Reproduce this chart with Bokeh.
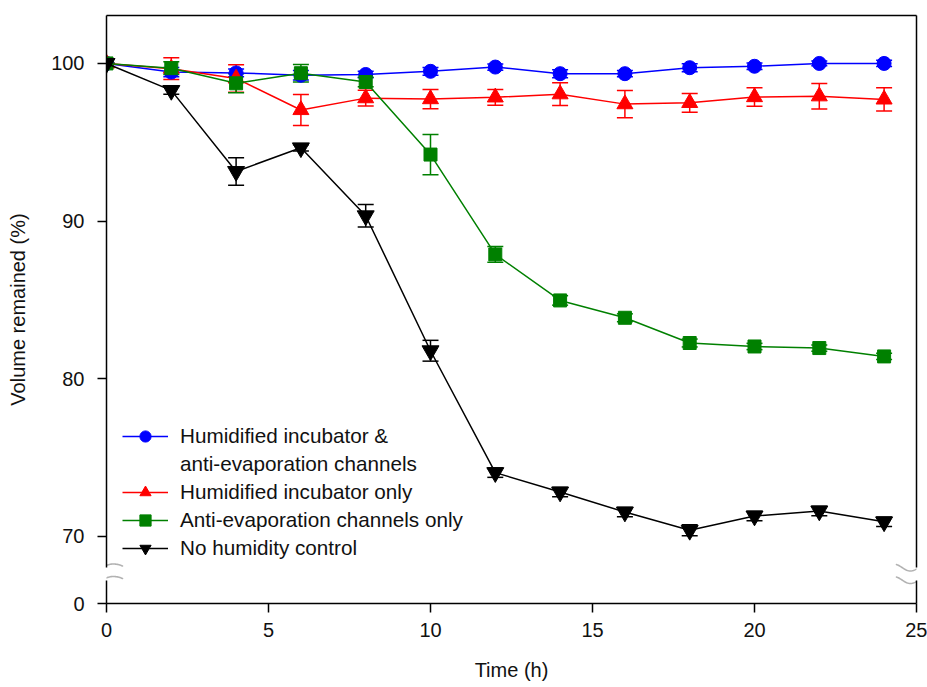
import numpy as np
from bokeh.plotting import figure
from bokeh.models import (ColumnDataSource, Whisker, TeeHead, Legend, LegendItem,
                          FixedTicker, PolyAnnotation, Range1d, LinearAxis)
from bokeh.embed import file_html
from bokeh.resources import INLINE

# ---------------- data ----------------
time_h = [0, 2, 4, 6, 8, 10, 12, 14, 16, 18, 20, 22, 24]

both_mean = [100, 99.45, 99.4, 99.25, 99.3, 99.5, 99.77, 99.35, 99.35, 99.73, 99.82, 100, 100]
both_err = [0, 0.3, 0.25, 0.3, 0.2, 0.25, 0.2, 0.25, 0.2, 0.25, 0.2, 0.15, 0.2]

incub_mean = [100, 99.67, 99.05, 97.05, 97.8, 97.74, 97.85, 98.05, 97.42, 97.5, 97.87, 97.92, 97.72]
incub_err = [0, 0.69, 0.87, 0.98, 0.5, 0.61, 0.5, 0.72, 0.87, 0.59, 0.59, 0.81, 0.74]

chan_mean = [100, 99.7, 98.74, 99.38, 98.82, 94.22, 87.89, 84.97, 83.87, 82.27, 82.05, 81.95, 81.42]
chan_err = [0, 0.4, 0.6, 0.56, 0.3, 1.28, 0.5, 0.3, 0.25, 0.25, 0.2, 0.2, 0.2]

none_mean = [100, 98.29, 93.15, 94.65, 90.34, 81.78, 74.05, 72.82, 71.55, 70.39, 71.3, 71.62, 70.93]
none_err = [0, 0.25, 0.87, 0.2, 0.72, 0.66, 0.3, 0.3, 0.3, 0.35, 0.3, 0.3, 0.3]

series_labels = [["Humidified incubator &", "anti-evaporation channels"],
                 ["Humidified incubator only"],
                 ["Anti-evaporation channels only"],
                 ["No humidity control"]]
series_colors = ["#0000FF", "#FF0000", "#008000", "#000000"]
series_markers = ["circle", "triangle", "square", "inverted_triangle"]
series_sizes = [14, 16, 13, 17]

x_ticks = [0, 5, 10, 15, 20, 25]
y_ticks = [70, 80, 90, 100]
y_zero_label = "0"

x_title = "Time (h)"
y_title = "Volume remained (%)"

# ---------------- layout ----------------
FONT = "Liberation Sans"
X_START, X_END = 0, 25
Y_ZERO_POS = 65.75   # display position of the "0" tick below the axis break
Y_END = 103.04
W, H = 927, 687
ML, MR, MT, MB = 106, 11, 15, 84
ppu_x = (W - ML - MR) / (X_END - X_START)
ppu_y = (H - MT - MB) / (Y_END - Y_ZERO_POS)
gap_hi = Y_ZERO_POS + 36 / ppu_y     # upper edge of the axis break
gap_lo = Y_ZERO_POS + 23.5 / ppu_y   # lower edge of the axis break

p = figure(width=W, height=H, output_backend="svg", toolbar_location=None,
           x_range=Range1d(X_START, X_END), y_range=Range1d(Y_ZERO_POS, Y_END),
           min_border_left=ML, min_border_right=MR, min_border_top=MT,
           min_border_bottom=MB)
p.grid.visible = False
p.background_fill_color = "white"
p.border_fill_color = "white"
p.outline_line_color = None

p.xaxis.ticker = FixedTicker(ticks=x_ticks)
p.yaxis.ticker = FixedTicker(ticks=[Y_ZERO_POS] + y_ticks)
p.yaxis.major_label_overrides = {Y_ZERO_POS: y_zero_label}
for ax in (p.xaxis, p.yaxis):
    ax.axis_line_width = 1.5
    ax.axis_line_color = "black"
    ax.major_tick_line_width = 1.5
    ax.major_tick_line_color = "black"
    ax.major_tick_in = 0
    ax.major_tick_out = 9
    ax.minor_tick_line_color = None
    ax.major_label_text_font = FONT
    ax.major_label_text_font_size = "20px"
    ax.major_label_text_color = "#111111"
    ax.axis_label_text_font = FONT
    ax.axis_label_text_font_size = "20px"
    ax.axis_label_text_font_style = "normal"
    ax.axis_label_text_color = "#111111"
p.yaxis.axis_line_color = None
p.xaxis.major_label_standoff = 10
p.yaxis.major_label_standoff = 13
p.xaxis.axis_label = x_title
p.yaxis.axis_label = y_title
p.xaxis.axis_label_standoff = 19
p.yaxis.axis_label_standoff = 19


def line_axis(lo, hi):
    """An axis that only draws its line between lo and hi (frame borders with a break)."""
    mid = (lo + hi) / 2
    return LinearAxis(bounds=(lo, hi), ticker=FixedTicker(ticks=[mid]),
                      major_label_overrides={mid: ""}, major_label_standoff=0,
                      major_label_text_font_size="1px",
                      major_tick_in=0, major_tick_out=0,
                      major_tick_line_color=None, minor_tick_line_color=None,
                      axis_line_color="black", axis_line_width=1.5)


for side in ("left", "right"):
    p.add_layout(line_axis(gap_hi, Y_END), side)
    p.add_layout(line_axis(Y_ZERO_POS, gap_lo), side)
p.left = p.left[1:] + p.left[:1]   # line-only axes next to the frame, labelled axis outside
p.add_layout(line_axis(X_START, X_END), "above")

means = [both_mean, incub_mean, chan_mean, none_mean]
errs = [both_err, incub_err, chan_err, none_err]

legend_items = []
dummy = p.line(x=[], y=[], line_alpha=0)
for lab, m, e, c, mk, sz in zip(series_labels, means, errs, series_colors,
                                 series_markers, series_sizes):
    lo = [a - b for a, b in zip(m, e)]
    hi = [a + b for a, b in zip(m, e)]
    src = ColumnDataSource(dict(t=time_h, v=m, lo=lo, hi=hi))
    wk = Whisker(source=src, base="t", lower="lo", upper="hi",
                 line_color=c, line_width=1.5,
                 lower_head=TeeHead(size=16, line_color=c, line_width=1.5),
                 upper_head=TeeHead(size=16, line_color=c, line_width=1.5))
    p.add_layout(wk)
    ln = p.line("t", "v", source=src, line_color=c, line_width=1.5)
    sc = p.scatter("t", "v", source=src, marker=mk, size=sz,
                   fill_color=c, line_color=c)
    legend_items.append(LegendItem(label=lab[0], renderers=[ln, sc]))
    for extra in lab[1:]:
        legend_items.append(LegendItem(label=extra, renderers=[dummy]))

legend = Legend(items=legend_items, location=(16, 41), orientation="vertical",
                glyph_width=46, glyph_height=28, label_height=20, spacing=0,
                label_standoff=12, padding=0, margin=0,
                label_text_font=FONT, label_text_font_size="20.7px",
                label_text_color="#111111",
                border_line_color=None, background_fill_alpha=0)
p.add_layout(legend)

# ---------------- axis-break marks ----------------


def wave(x_axis, y_mid, side):
    if side == "left":
        px = np.linspace(-18, 16, 40)
        off = 3.5 * np.cos(np.pi * (px + 18) / 25)
    else:
        px = np.linspace(-20, 16, 40)
        off = 3.5 * np.cos(2 * np.pi * (px + 6) / 34)
    xs = x_axis + px / ppu_x
    ys = y_mid - off / ppu_y
    return list(xs), list(ys)


for x_axis, side in ((X_START, "left"), (X_END, "right")):
    for y_mid in (gap_hi, gap_lo):
        wx, wy = wave(x_axis, y_mid, side)
        p.add_layout(PolyAnnotation(xs=wx + wx[::-1], ys=wy + wy[::-1],
                                    fill_alpha=0, line_color="black",
                                    line_width=1.6, line_join="round",
                                    level="overlay"))

open("out.html", "w").write(file_html(p, INLINE))
